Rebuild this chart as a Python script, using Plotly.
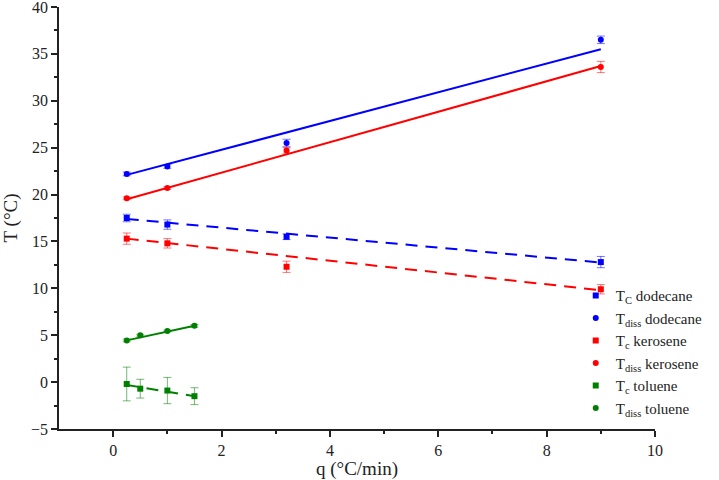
import plotly.graph_objects as go

# ---- data ----
q_main = [0.25, 1, 3.2, 9]
q_tol = [0.25, 0.5, 1, 1.5]

tc_dodecane = [17.5, 16.8, 15.5, 12.8]
tc_dodecane_err = [0.4, 0.5, 0.3, 0.6]
tdiss_dodecane = [22.2, 23.0, 25.5, 36.5]
tdiss_dodecane_err = [0.2, 0.2, 0.4, 0.4]

tc_kerosene = [15.3, 14.8, 12.3, 9.9]
tc_kerosene_err = [0.6, 0.5, 0.6, 0.5]
tdiss_kerosene = [19.6, 20.7, 24.7, 33.6]
tdiss_kerosene_err = [0.15, 0.15, 0.3, 0.6]

tc_toluene = [-0.2, -0.7, -0.9, -1.5]
tc_toluene_err = [1.8, 1.0, 1.4, 0.9]
tdiss_toluene = [4.45, 5.0, 5.45, 6.0]
tdiss_toluene_err = [0.15, 0.1, 0.1, 0.15]

# linear fit lines (end points)
fit_x_main = [0.25, 9]
fit_x_tol = [0.25, 1.5]
fit_tc_dodecane = [17.4, 12.75]
fit_tdiss_dodecane = [22.1, 35.5]
fit_tc_kerosene = [15.3, 9.8]
fit_tdiss_kerosene = [19.5, 33.7]
fit_tc_toluene = [-0.3, -1.5]
fit_tdiss_toluene = [4.45, 6.0]

x_minor_ticks = [1, 3, 5, 7, 9]

BLUE = "#0000FF"
RED = "#FF0000"
GREEN = "#008000"
FONT = "Liberation Serif, DejaVu Serif, serif"
INK = "#222"

fig = go.Figure()


def fit(x, y, color, dash):
    fig.add_trace(go.Scatter(x=x, y=y, mode="lines", showlegend=False,
                             line=dict(color=color, width=2, dash=dash),
                             hoverinfo="skip"))


fit(fit_x_main, fit_tc_dodecane, BLUE, "12px,8px")
fit(fit_x_main, fit_tdiss_dodecane, BLUE, "solid")
fit(fit_x_main, fit_tc_kerosene, RED, "12px,8px")
fit(fit_x_main, fit_tdiss_kerosene, RED, "solid")
fit(fit_x_tol, fit_tc_toluene, GREEN, "12px,8px")
fit(fit_x_tol, fit_tdiss_toluene, GREEN, "solid")

ERR = {BLUE: "rgba(0,0,255,0.55)", RED: "rgba(255,0,0,0.55)", GREEN: "rgba(0,128,0,0.55)"}

series = [
    (q_main, tc_dodecane, tc_dodecane_err, BLUE, "square", "T<sub>C</sub> dodecane"),
    (q_main, tdiss_dodecane, tdiss_dodecane_err, BLUE, "circle", "T<sub>diss</sub> dodecane"),
    (q_main, tc_kerosene, tc_kerosene_err, RED, "square", "T<sub>c</sub> kerosene"),
    (q_main, tdiss_kerosene, tdiss_kerosene_err, RED, "circle", "T<sub>diss</sub> kerosene"),
    (q_tol, tc_toluene, tc_toluene_err, GREEN, "square", "T<sub>c</sub> toluene"),
    (q_tol, tdiss_toluene, tdiss_toluene_err, GREEN, "circle", "T<sub>diss</sub> toluene"),
]
for x, y, e, c, s, n in series:
    fig.add_trace(go.Scatter(x=x, y=y, mode="markers", name=n,
                             marker=dict(color=c, symbol=s, size=6),
                             error_y=dict(type="data", array=e, visible=True,
                                          thickness=1, width=4, color=ERR[c])))

axis_common = dict(
    showline=True, linecolor=INK, linewidth=1.5, ticks="outside", ticklen=6,
    tickwidth=1.5, tickcolor=INK, showgrid=False, zeroline=False,
    tickfont=dict(family=FONT, size=16, color=INK), ticklabeloverflow="allow",
    automargin=False,
)
fig.update_xaxes(range=[-1, 10], dtick=2, tick0=0,
                 minor=dict(tickmode="array", tickvals=x_minor_ticks, ticks="outside",
                            ticklen=3, tickcolor=INK, tickwidth=1.5),
                 title=dict(text="q (°C/min)", font=dict(family=FONT, size=19, color=INK), standoff=0),
                 **axis_common)
fig.update_yaxes(range=[-5, 40], dtick=5,
                 minor=dict(dtick=2.5, ticks="outside", ticklen=3, tickcolor=INK, tickwidth=1.5),
                 title=dict(text="T (°C)", font=dict(family=FONT, size=19, color=INK), standoff=8),
                 **axis_common)

fig.update_layout(
    width=719, height=480,
    margin=dict(l=59, r=64, t=7, b=51, autoexpand=False),
    plot_bgcolor="white", paper_bgcolor="white",
    font=dict(family=FONT, color=INK),
    legend=dict(x=0.867, y=0.355, xanchor="left", yanchor="top",
                font=dict(family=FONT, size=15, color=INK),
                bgcolor="rgba(0,0,0,0)", tracegroupgap=0, itemwidth=30),
)

fig.write_html("out.html")
